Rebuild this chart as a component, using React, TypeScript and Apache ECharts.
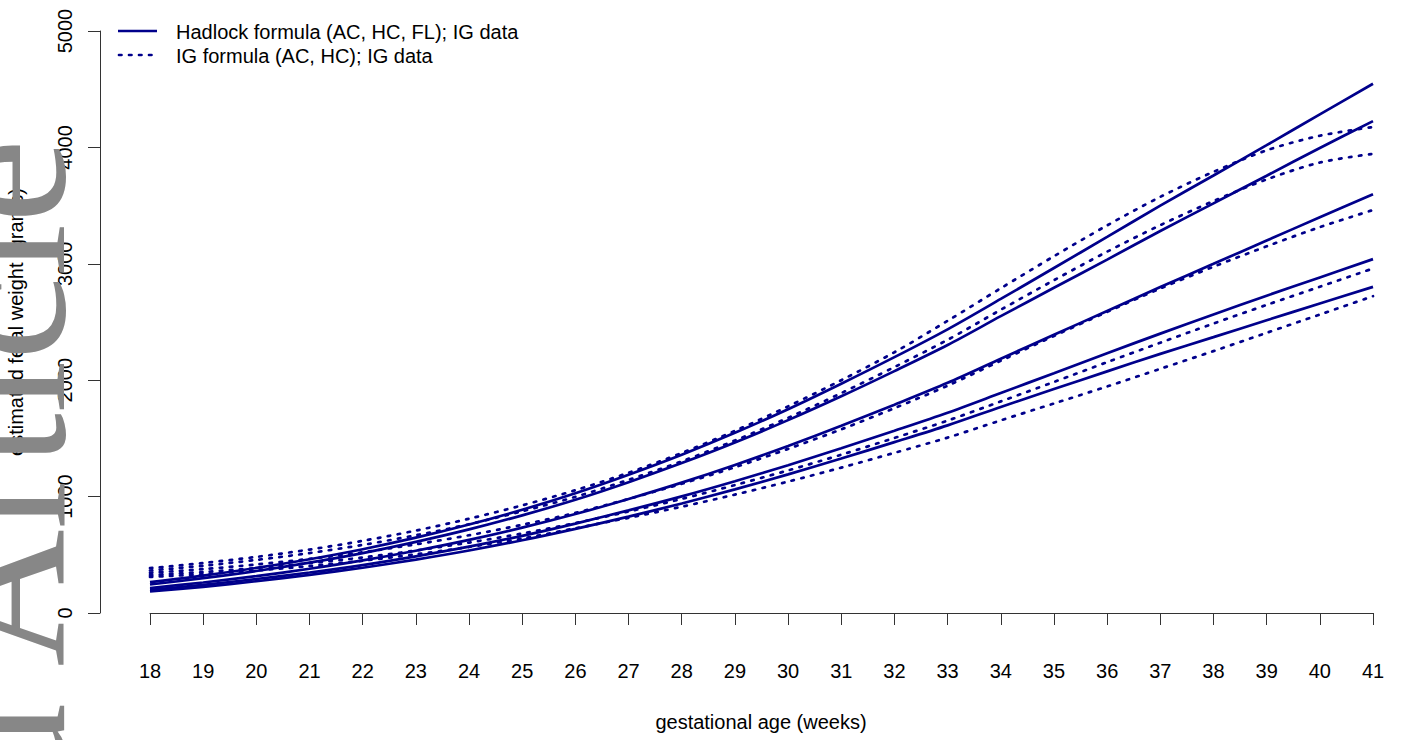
import React, { useEffect, useRef } from "react";
import * as echarts from "echarts";

const weeks = [18, 19, 20, 21, 22, 23, 24, 25, 26, 27, 28, 29, 30, 31, 32, 33, 34, 35, 36, 37, 38, 39, 40, 41];

// Hadlock formula (AC, HC, FL); IG data — centile curves (grams)
const hadlock97 = [265, 321, 387, 462, 548, 647, 760, 887, 1029, 1188, 1360, 1548, 1751, 1970, 2198, 2437, 2698, 2964, 3231, 3500, 3759, 4019, 4284, 4547];
const hadlock90 = [245, 299, 361, 433, 515, 611, 718, 839, 973, 1124, 1288, 1465, 1657, 1862, 2078, 2302, 2550, 2794, 3036, 3282, 3519, 3757, 3995, 4226];
const hadlock50 = [215, 262, 317, 380, 452, 535, 628, 733, 850, 980, 1120, 1272, 1435, 1608, 1790, 1978, 2185, 2390, 2595, 2800, 3000, 3200, 3400, 3597];
const hadlock10 = [200, 242, 292, 348, 412, 487, 570, 663, 768, 882, 1002, 1132, 1270, 1415, 1566, 1721, 1890, 2060, 2232, 2400, 2565, 2726, 2883, 3040];
const hadlock3 = [185, 225, 273, 327, 389, 459, 537, 625, 723, 828, 941, 1062, 1191, 1327, 1468, 1612, 1770, 1924, 2076, 2226, 2370, 2515, 2659, 2802];

// IG formula (AC, HC); IG data — centile curves (grams)
const ig97 = [385, 430, 482, 545, 620, 708, 810, 925, 1055, 1205, 1375, 1565, 1775, 2000, 2240, 2510, 2790, 3065, 3330, 3575, 3790, 3975, 4100, 4175];
const ig90 = [365, 406, 456, 515, 585, 668, 763, 874, 998, 1144, 1303, 1482, 1677, 1889, 2113, 2347, 2605, 2859, 3104, 3332, 3539, 3725, 3870, 3945];
const ig50 = [345, 377, 417, 465, 522, 590, 668, 758, 860, 980, 1110, 1252, 1410, 1578, 1760, 1953, 2167, 2380, 2587, 2788, 2975, 3150, 3315, 3462];
const ig10 = [325, 352, 387, 428, 477, 537, 605, 683, 773, 872, 980, 1099, 1225, 1360, 1504, 1653, 1818, 1985, 2155, 2322, 2487, 2647, 2803, 2960];
const ig3 = [310, 333, 365, 403, 449, 504, 567, 640, 728, 818, 913, 1017, 1129, 1249, 1376, 1507, 1655, 1800, 1946, 2098, 2250, 2407, 2564, 2722];

const yTicks = [0, 1000, 2000, 3000, 4000, 5000];

const legendNames = ["Hadlock formula (AC, HC, FL); IG data", "IG formula (AC, HC); IG data"];
const xTitle = "gestational age (weeks)";
const yTitle = "estimated fetal weight (grams)";
const watermark = "Accepted Article";

const COLOR = "#00008B";
const FONT = "'Liberation Sans', Arial, Helvetica, sans-serif";

export default function App() {
  const ref = useRef<HTMLDivElement>(null);

  useEffect(() => {
    if (!ref.current) return;
    const chart = echarts.init(ref.current, null, { renderer: "svg" });

    const solidStyle = { color: COLOR, width: 2.7, type: "solid" as const };
    const dashStyle = { color: COLOR, width: 2.7, type: [2.5, 7.5], cap: "round" as const };

    const mk = (vals: number[], dashed: boolean) => ({
      type: "line",
      name: dashed ? legendNames[1] : legendNames[0],
      data: weeks.map((w, i) => [w, vals[i]]),
      symbol: "none",
      smooth: 0.3,
      lineStyle: dashed ? dashStyle : solidStyle,
      silent: true,
    });

    const series = [
      mk(hadlock97, false),
      mk(hadlock90, false),
      mk(hadlock50, false),
      mk(hadlock10, false),
      mk(hadlock3, false),
      mk(ig97, true),
      mk(ig90, true),
      mk(ig50, true),
      mk(ig10, true),
      mk(ig3, true),
    ];

    chart.setOption({
      animation: false,
      backgroundColor: "#ffffff",
      textStyle: { fontFamily: FONT },
      grid: { left: 150, right: 28, top: 31, bottom: 127 },
      xAxis: {
        type: "value",
        min: 18,
        max: 41,
        interval: 1,
        offset: 21,
        axisLine: { show: true, lineStyle: { color: "#333", width: 1 } },
        axisTick: { show: true, length: 12, lineStyle: { color: "#333", width: 1 } },
        axisLabel: { color: "#000", fontSize: 20, margin: 27, fontFamily: FONT },
        splitLine: { show: false },
      },
      yAxis: {
        type: "value",
        min: 0,
        max: 5000,
        interval: 1000,
        offset: 50,
        axisLine: { show: true, lineStyle: { color: "#333", width: 1 } },
        axisTick: { show: true, length: 12, lineStyle: { color: "#333", width: 1 } },
        axisLabel: {
          color: "#000",
          fontSize: 20,
          rotate: 90,
          margin: 25,
          fontFamily: FONT,
          formatter: (v: number) => (yTicks.includes(v) ? String(v) : ""),
        },
        splitLine: { show: false },
      },
      series,
      graphic: [
        {
          type: "line",
          shape: { x1: 118, y1: 31, x2: 157, y2: 31 },
          style: { stroke: COLOR, lineWidth: 2.7 },
        },
        {
          type: "line",
          shape: { x1: 119, y1: 55, x2: 157, y2: 55 },
          style: { stroke: COLOR, lineWidth: 2.7, lineDash: [2.5, 7.5], lineCap: "round" },
        },
        {
          type: "text",
          x: 176,
          y: 32,
          style: { text: legendNames[0], fill: "#000", font: `20px ${FONT}`, textVerticalAlign: "middle", textAlign: "left" },
        },
        {
          type: "text",
          x: 176,
          y: 56,
          style: { text: legendNames[1], fill: "#000", font: `20px ${FONT}`, textVerticalAlign: "middle", textAlign: "left" },
        },
        {
          type: "text",
          x: 761,
          y: 722,
          style: { text: xTitle, fill: "#000", font: `20px ${FONT}`, textVerticalAlign: "middle", textAlign: "center" },
        },
        {
          type: "text",
          x: 16,
          y: 322,
          rotation: Math.PI / 2,
          style: { text: yTitle, fill: "#000", font: `20px ${FONT}`, textVerticalAlign: "middle", textAlign: "center" },
        },
        {
          type: "text",
          x: 95,
          y: 139,
          z: 100,
          rotation: Math.PI / 2,
          silent: true,
          style: {
            text: watermark,
            fill: "#878787",
            font: `190px 'Liberation Serif', 'Times New Roman', serif`,
            textVerticalAlign: "bottom",
            textAlign: "right",
          },
        },
      ],
    });

    return () => chart.dispose();
  }, []);

  return (
    <div
      ref={ref}
      style={{ position: "fixed", left: 0, top: 0, width: 1401, height: 740, background: "#fff" }}
    />
  );
}
